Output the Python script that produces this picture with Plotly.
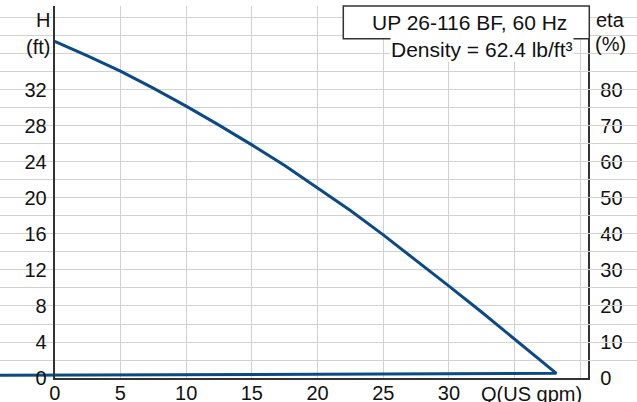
import plotly.graph_objects as go

# ---- data ----
q_head = [0, 2.5, 5, 7.5, 10, 12.5, 15, 17.5, 20, 22.5, 25, 27.5, 30, 32.5, 35, 36.5, 38.17]
h_head = [37.4, 35.8, 34.1, 32.2, 30.2, 28.1, 25.9, 23.6, 21.1, 18.6, 15.9, 13.1, 10.2, 7.3, 4.3, 2.5, 0.52]
q_return = [-4.6]
h_return = [0.29]

x_ticks = [0, 5, 10, 15, 20, 25, 30, 35, 40]
x_labels = ["0", "5", "10", "15", "20", "25", "30", "", ""]
h_ticks = list(range(0, 42, 2))
h_labels = [str(v) if (v % 4 == 0 and v <= 32) else "" for v in h_ticks]
eta_ticks = [0, 10, 20, 30, 40, 50, 60, 70, 80]
eta_labels = [str(v) for v in eta_ticks]

title_text = "UP 26-116 BF, 60 Hz"
density_text = "Density = 62.4 lb/ft³"

# ---- layout geometry ----
W, H = 637, 402
PX_L, PX_R, PX_T, PX_B = 54.7, 588.3, 6.0, 378.0
Q_MAX = 40.6
H_MAX = 41.33
ETA_MAX = H_MAX * 2.5

FONT = "Liberation Sans, Arial, sans-serif"
FS = 20
TXT = "#111111"
LINE = "#333333"
GRID = "#d2d2d2"
BLUE = "#0b4a87"

q_per_px = Q_MAX / (PX_R - PX_L)
x2_range = [-PX_L * q_per_px, (W - PX_L) * q_per_px]

def px(x):
    return x / W

def py(y):
    return 1 - y / H

fig = go.Figure()
fig.add_trace(go.Scatter(
    x=q_head + q_return, y=h_head + h_return,
    mode="lines", line=dict(color=BLUE, width=3),
    xaxis="x2", yaxis="y", showlegend=False, hoverinfo="skip",
))

fig.update_layout(
    width=W, height=H,
    margin=dict(l=0, r=0, t=0, b=0, autoexpand=False),
    paper_bgcolor="white", plot_bgcolor="rgba(0,0,0,0)",
    font=dict(family=FONT, size=FS, color=TXT),
    showlegend=False,
    xaxis=dict(
        domain=[px(PX_L), px(PX_R)], range=[0, Q_MAX], anchor="y",
        tickmode="array", tickvals=x_ticks, ticktext=x_labels,
        showgrid=True, gridcolor=GRID, gridwidth=1,
        showline=True, linecolor=LINE, linewidth=2,
        zeroline=False, ticks="", ticklabelstandoff=-4, automargin=False,
        tickfont=dict(size=FS, color=TXT),
    ),
    xaxis2=dict(
        domain=[0, 1], range=x2_range, anchor="y", visible=False,
        showgrid=False, zeroline=False, automargin=False,
    ),
    yaxis=dict(
        domain=[py(PX_B), py(PX_T)], range=[0, H_MAX], anchor="x",
        tickmode="array", tickvals=h_ticks, ticktext=h_labels,
        showgrid=True, gridcolor=GRID, gridwidth=1,
        showline=True, linecolor=LINE, linewidth=2,
        zeroline=False, ticks="", ticklabelstandoff=2, automargin=False,
        tickfont=dict(size=FS, color=TXT),
    ),
    yaxis2=dict(
        overlaying="y", side="right", anchor="x", range=[0, ETA_MAX],
        tickmode="array", tickvals=eta_ticks, ticktext=eta_labels,
        showgrid=False, showline=True, linecolor=LINE, linewidth=2,
        zeroline=False, ticks="", ticklabelstandoff=6, automargin=False,
        tickfont=dict(size=FS, color=TXT),
    ),
)

# invisible trace so the eta axis has a subplot
fig.add_trace(go.Scatter(x=[None], y=[None], xaxis="x", yaxis="y2",
                         showlegend=False, hoverinfo="skip"))

fig.add_shape(type="rect", xref="paper", yref="paper",
              x0=px(343.3), x1=px(589.3), y0=py(38.7), y1=py(6),
              line=dict(color=LINE, width=1.5), fillcolor="white", layer="above")

ann = [
    dict(text=title_text, x=px(470), y=py(22.5), xanchor="center", yanchor="middle", font=dict(size=21)),
    dict(text=density_text, x=px(482), y=py(50), xanchor="center", yanchor="middle",
         bgcolor="white", borderpad=0, font=dict(size=21)),
    dict(text="eta", x=px(610), y=py(20), xanchor="center", yanchor="middle"),
    dict(text="(%)", x=px(610), y=py(44), xanchor="center", yanchor="middle"),
    dict(text="H", x=px(43), y=py(20), xanchor="center", yanchor="middle"),
    dict(text="(ft)", x=px(38), y=py(47), xanchor="center", yanchor="middle"),
    dict(text="Q(US gpm)", x=px(531), y=py(394), xanchor="center", yanchor="middle"),
]
for a in ann:
    a.setdefault("font", dict(size=FS))
    a["font"].update(family=FONT, color=TXT)
    fig.add_annotation(xref="paper", yref="paper", showarrow=False, **a)

fig.write_html(
    "out.html",
    config={"displayModeBar": False},
    post_script="document.body.style.margin='0';document.body.style.overflow='hidden';",
)
